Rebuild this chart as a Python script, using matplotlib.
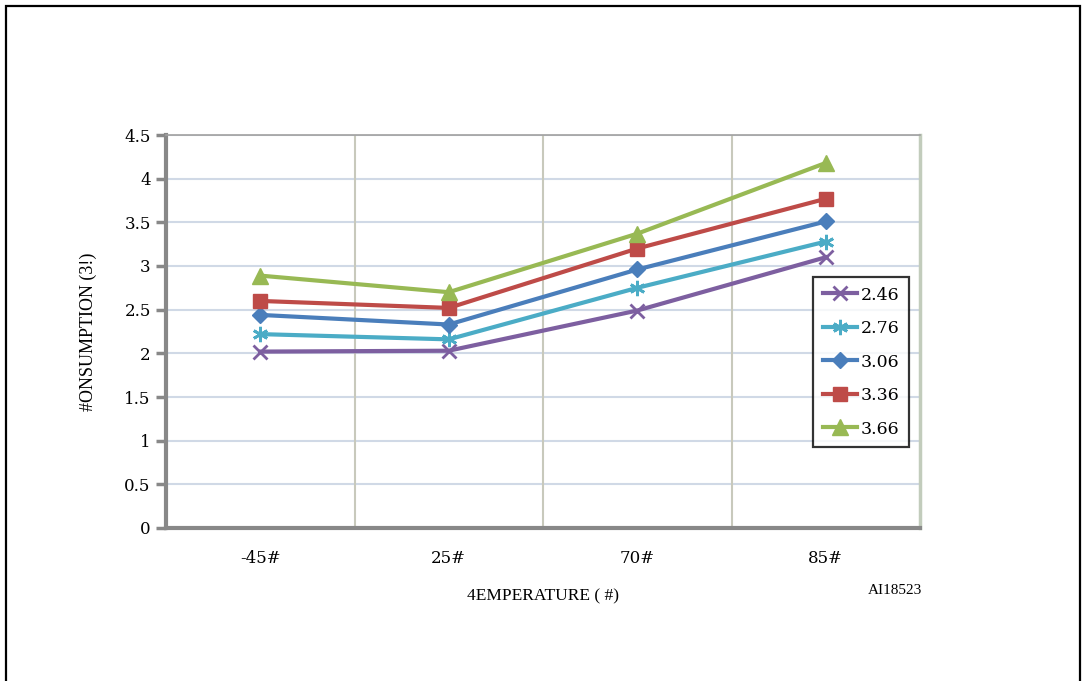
import matplotlib.pyplot as plt
from matplotlib.patches import Rectangle

categories = ["-45#", "25#", "70#", "85#"]
series_names = ["2.46", "2.76", "3.06", "3.36", "3.66"]
v246 = [2.02, 2.03, 2.49, 3.10]
v276 = [2.22, 2.16, 2.75, 3.28]
v306 = [2.44, 2.33, 2.96, 3.51]
v336 = [2.60, 2.52, 3.20, 3.77]
v366 = [2.89, 2.70, 3.37, 4.18]
yticks = [0, 0.5, 1, 1.5, 2, 2.5, 3, 3.5, 4, 4.5]

plt.rcParams['font.family'] = ['Liberation Serif', 'DejaVu Serif']
tickfont = ['DejaVu Serif']

fig = plt.figure(figsize=(10.82, 6.81), dpi=100)
W, H = 1082, 681
ax = fig.add_axes([166 / W, 1 - 528 / H, (920 - 166) / W, (528 - 135) / H])

# figure frame
fig.patches.append(Rectangle((6 / W, -0.1), (1080 - 6) / W, 1 - 6 / H + 0.1,
                             transform=fig.transFigure, fill=False,
                             edgecolor='black', linewidth=1.6))

x = range(len(categories))
styles = [
    (v246, '#7D5FA0', 'x', 10, 2.0),
    (v276, '#4BACC6', (6, 2, 0), 11, 2.0),
    (v306, '#4A7EBB', 'D', 8, 1.0),
    (v336, '#BE4B48', 's', 10, 1.0),
    (v366, '#98B954', '^', 11, 1.0),
]
for name, (vals, col, mk, ms, mew) in zip(series_names, styles):
    ax.plot(x, vals, color=col, linewidth=3, marker=mk, markersize=ms,
            markeredgewidth=mew, markeredgecolor=col,
            markerfacecolor=col, label=name, zorder=3)

ax.set_xlim(-0.5, 3.5)
ax.set_ylim(0, 4.5)
ax.set_yticks(yticks)
ax.set_yticklabels([f"{t:g}" for t in yticks], family=tickfont)
ax.set_xticks(list(x))
ax.set_xticklabels(categories, family=tickfont)

for t in yticks[1:]:
    ax.axhline(t, color='#D0D9E6', linewidth=1.5, zorder=1)
for b in [0.5, 1.5, 2.5]:
    ax.axvline(b, color='#C8C9BC', linewidth=1.5, zorder=1)

ax.spines['top'].set_color('#A0A0A0')
ax.spines['top'].set_linewidth(1.2)
ax.spines['right'].set_color('#C2CCBC')
ax.spines['right'].set_linewidth(2.5)
ax.spines['left'].set_color('#888888')
ax.spines['left'].set_linewidth(3)
ax.spines['bottom'].set_color('#888888')
ax.spines['bottom'].set_linewidth(3)

ax.tick_params(axis='y', length=7, width=2.5, color='#888888', labelsize=12, pad=4)
ax.tick_params(axis='x', length=0, labelsize=12, pad=16)

ax.set_ylabel("#ONSUMPTION (3!)", fontsize=13, labelpad=20)
ax.set_xlabel("4EMPERATURE ( #)", fontsize=12.5, labelpad=15)

fig.text(922 / W, 1 - 591 / H, "AI18523", ha='right', va='center',
         fontsize=11, family=['Liberation Serif'])

leg = ax.legend(loc='upper left', bbox_to_anchor=(813 / W, 1 - 277 / H),
                bbox_transform=fig.transFigure, frameon=True,
                prop={'family': tickfont, 'size': 12.5},
                fancybox=False, handlelength=2.0, handletextpad=0.2,
                borderpad=0.55, labelspacing=0.95, borderaxespad=0)
leg.get_frame().set_edgecolor('black')
leg.get_frame().set_linewidth(1.6)

fig.savefig("out.png", dpi=100)
